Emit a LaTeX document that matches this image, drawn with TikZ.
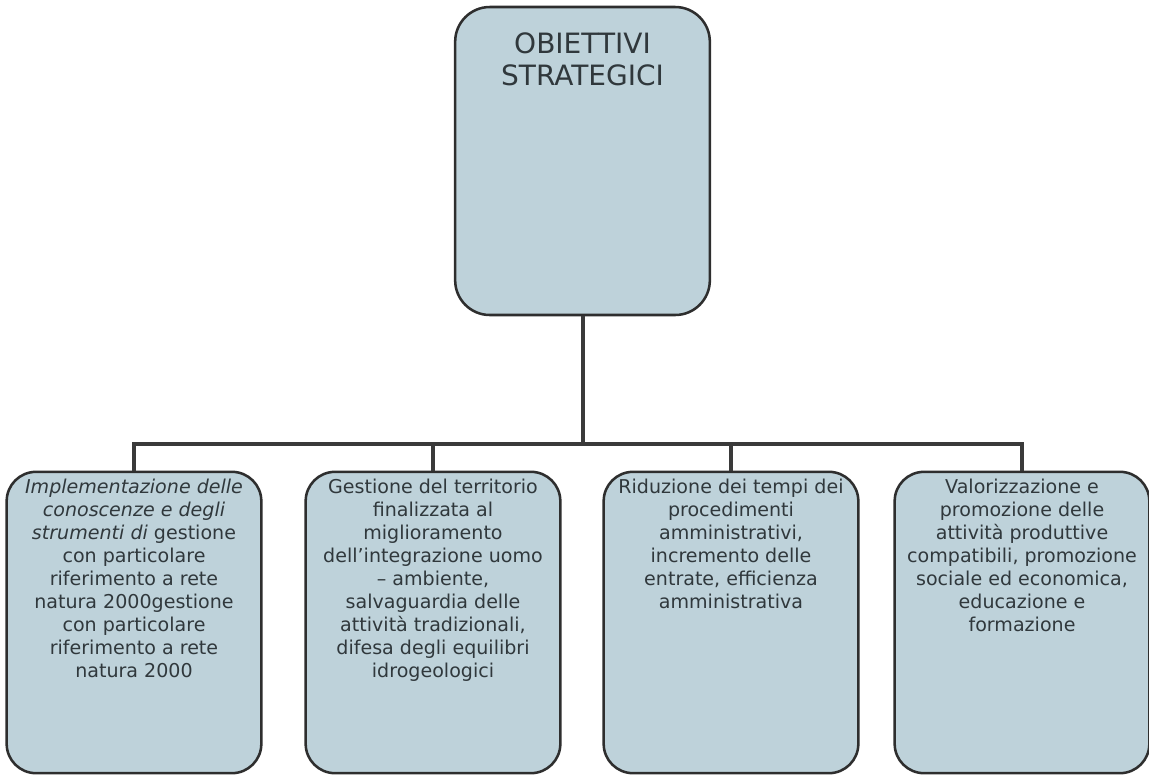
\documentclass[tikz,border=0pt]{standalone}
\usepackage{fontspec}
\setmainfont{DejaVu Sans}
\usetikzlibrary{calc}
\definecolor{boxfill}{HTML}{BED2DA}
\definecolor{boxline}{HTML}{2E2E2E}
\definecolor{txt}{HTML}{30383C}
\definecolor{conn}{HTML}{3A3A3A}
\begin{document}
\begin{tikzpicture}[x=0.75pt,y=-0.75pt,
  box/.style={draw=boxline, line width=1.9pt, fill=boxfill, rounded corners=22pt,
    minimum width=191pt, minimum height=226pt, inner sep=0pt},
  topbox/.style={draw=boxline, line width=1.9pt, fill=boxfill, rounded corners=26pt,
    minimum width=191pt, minimum height=231pt, inner sep=0pt},
  boxtext/.style={anchor=north, align=center, text=txt, inner sep=0pt,
    font=\fontsize{14.3pt}{17.25pt}\selectfont},
  toptext/.style={anchor=north, align=center, text=txt, inner sep=0pt,
    font=\fontsize{21pt}{24pt}\selectfont},
  link/.style={draw=conn, line width=3pt}]
\useasboundingbox (0,0) rectangle (1149,775);
\node[topbox, label={[toptext, yshift=-20pt]north:{OBIETTIVI\\STRATEGICI}}] (top) at (582.5,161) {};
\node[box, label={[boxtext, yshift=-6.5pt]north:{\itshape Implementazione delle\\\itshape conoscenze e degli\\\itshape strumenti di\upshape{} gestione\\con particolare\\riferimento a rete\\natura 2000gestione\\con particolare\\riferimento a rete\\natura 2000}}] (b1) at (134,622.5) {};
\node[box, label={[boxtext, yshift=-6.5pt]north:{Gestione del territorio\\finalizzata al\\miglioramento\\dell’integrazione uomo\\– ambiente,\\salvaguardia delle\\attività tradizionali,\\difesa degli equilibri\\idrogeologici}}] (b2) at (433,622.5) {};
\node[box, label={[boxtext, yshift=-6.5pt]north:{Riduzione dei tempi dei\\procedimenti\\amministrativi,\\incremento delle\\entrate, efficienza\\amministrativa}}] (b3) at (731,622.5) {};
\node[box, label={[boxtext, yshift=-6.5pt]north:{Valorizzazione e\\promozione delle\\attività produttive\\compatibili, promozione\\sociale ed economica,\\educazione e\\formazione}}] (b4) at (1022,622.5) {};
\coordinate (j) at (582.5,444);
\draw[link] (top.south) -- (j);
\draw[link] (b1.north) |- (j) -| (b4.north);
\draw[link] (b2.north) -- (b2.north |- j);
\draw[link] (b3.north) -- (b3.north |- j);
\end{tikzpicture}
\end{document}
